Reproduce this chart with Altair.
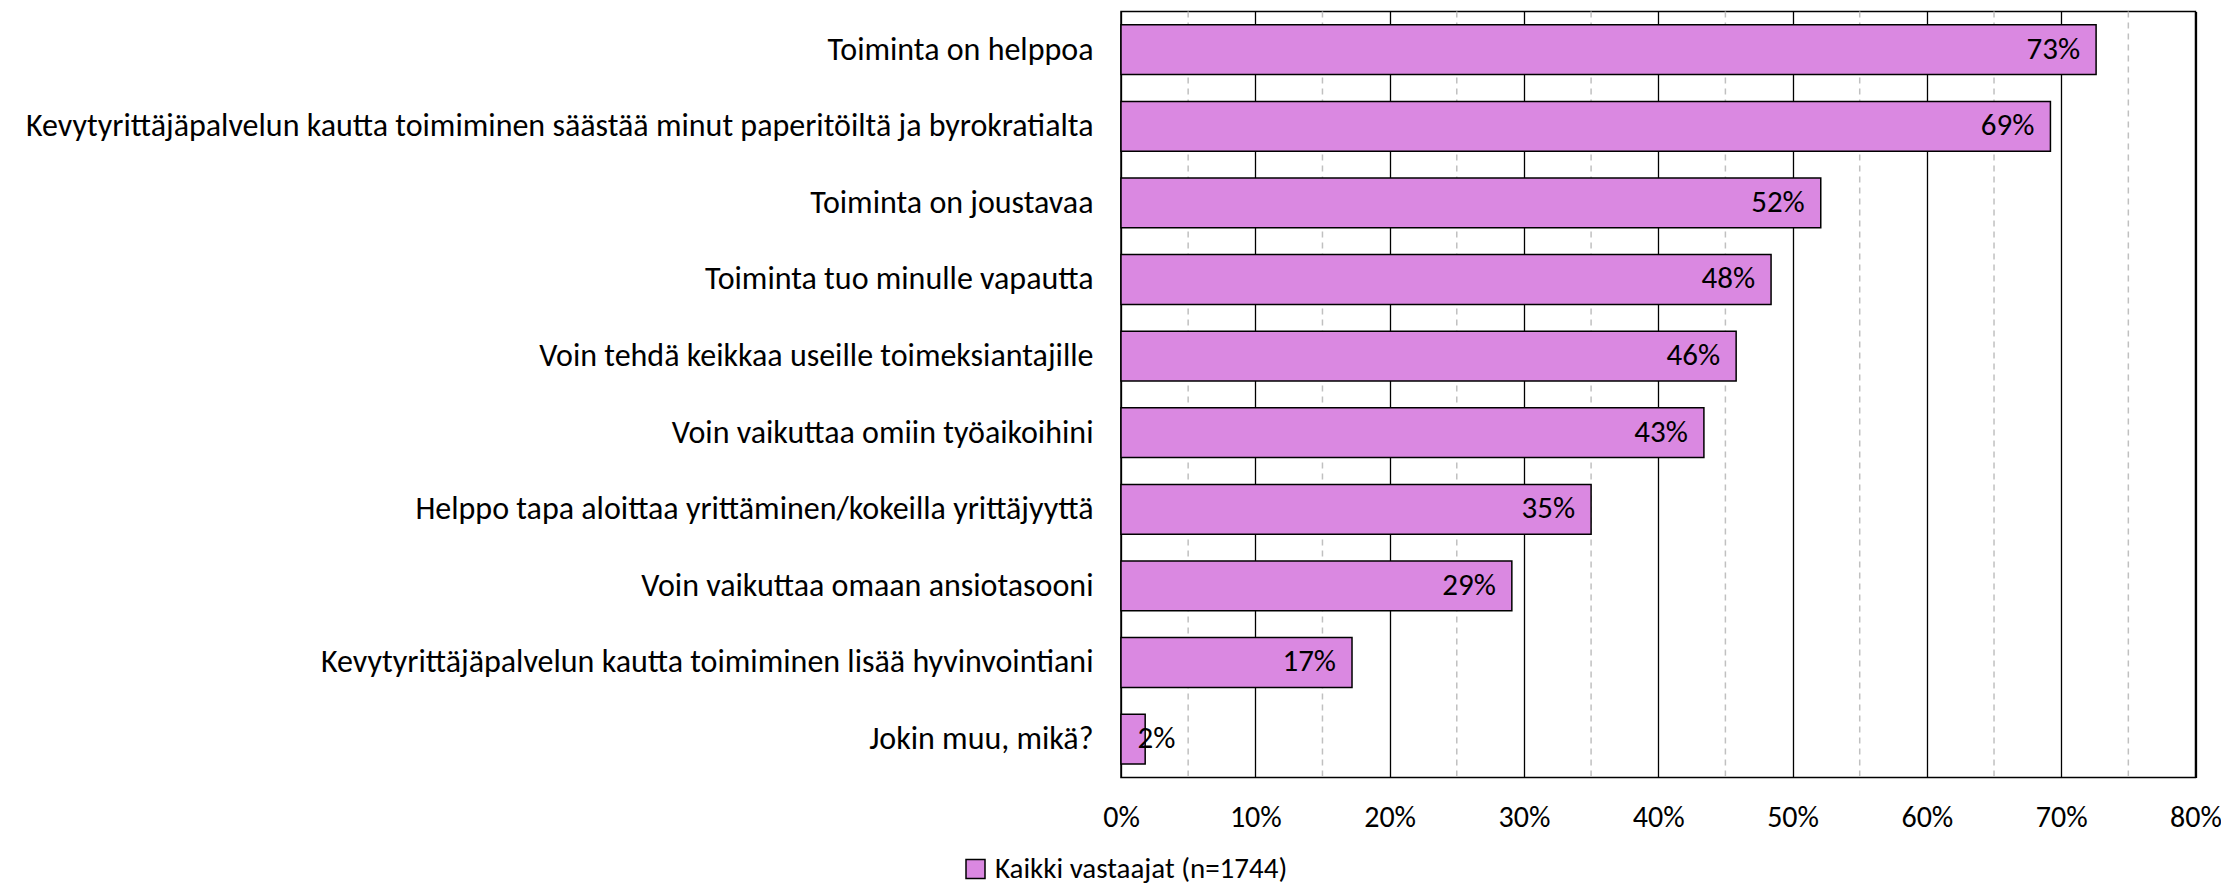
import altair as alt
import pandas as pd

categories = [
    "Toiminta on helppoa",
    "Kevytyrittäjäpalvelun kautta toimiminen säästää minut paperitöiltä ja byrokratialta",
    "Toiminta on joustavaa",
    "Toiminta tuo minulle vapautta",
    "Voin tehdä keikkaa useille toimeksiantajille",
    "Voin vaikuttaa omiin työaikoihini",
    "Helppo tapa aloittaa yrittäminen/kokeilla yrittäjyyttä",
    "Voin vaikuttaa omaan ansiotasooni",
    "Kevytyrittäjäpalvelun kautta toimiminen lisää hyvinvointiani",
    "Jokin muu, mikä?",
]
values = [72.6, 69.2, 52.1, 48.4, 45.8, 43.4, 35.0, 29.1, 17.2, 1.8]
labels = ["73%", "69%", "52%", "48%", "46%", "43%", "35%", "29%", "17%", "2%"]
series_name = "Kaikki vastaajat (n=1744)"
major_ticks = [0, 10, 20, 30, 40, 50, 60, 70, 80]
minor_ticks = [5, 15, 25, 35, 45, 55, 65, 75]

df = pd.DataFrame({"cat": categories, "value": values, "label": labels, "series": series_name})
minor_df = pd.DataFrame({"x": minor_ticks})

FONT = "Carlito, Lato, sans-serif"
FS = 31
x_scale = alt.Scale(domain=[0, 80], nice=False, zero=True)
y_scale = alt.Scale(paddingInner=0.35, paddingOuter=0.175)

x_axis = alt.Axis(
    title=None,
    values=major_ticks,
    labelExpr="datum.value + '%'",
    grid=True,
    gridColor="black",
    gridWidth=1.3,
    gridOpacity=1,
    ticks=False,
    domain=False,
    labelFont=FONT,
    labelFontSize=30,
    labelColor="black",
    labelPadding=25,
    labelFlush=False,
)

minor = alt.Chart(minor_df).mark_rule(
    color="#C0C0C0", strokeDash=[6, 5], strokeWidth=1.5
).encode(x=alt.X("x:Q", scale=x_scale, axis=x_axis))

bars = alt.Chart(df).mark_bar(stroke="black", strokeWidth=1.5).encode(
    x=alt.X("value:Q", scale=x_scale, axis=x_axis),
    y=alt.Y(
        "cat:N",
        sort=categories,
        scale=y_scale,
        axis=alt.Axis(
            title=None,
            ticks=False,
            domain=False,
            grid=False,
            labelFont=FONT,
            labelFontSize=32,
            labelColor="black",
            labelPadding=28,
            labelLimit=0,
        ),
    ),
    color=alt.Color(
        "series:N",
        scale=alt.Scale(range=["#DA88E1"]),
        legend=alt.Legend(
            title=None,
            orient="none",
            legendX=-160,
            legendY=843,
            padding=0,
            symbolType="square",
            symbolSize=361,
            symbolStrokeColor="black",
            symbolStrokeWidth=1.5,
            labelFont=FONT,
            labelFontSize=29,
            labelColor="black",
            labelOffset=5,
            labelLimit=0,
        ),
    ),
)

text_big = alt.Chart(df).transform_filter("datum.value >= 5").mark_text(
    align="right", baseline="middle", dx=-16, font=FONT, fontSize=FS, color="black"
).encode(
    x=alt.X("value:Q", scale=x_scale),
    y=alt.Y("cat:N", sort=categories, scale=y_scale),
    text="label:N",
)

text_small = alt.Chart(df).transform_filter("datum.value < 5").mark_text(
    align="left", baseline="middle", dx=16.5, font=FONT, fontSize=FS, color="black"
).encode(
    x=alt.value(0),
    y=alt.Y("cat:N", sort=categories, scale=y_scale),
    text="label:N",
)

chart = alt.layer(minor, bars, text_big, text_small).properties(
    width=1074.5,
    height=766,
    autosize=alt.AutoSizeParams(type="none"),
    padding={"left": 1113, "top": 3.4, "right": 25, "bottom": 110},
).configure_view(stroke="black", strokeWidth=1.5)

chart.save("out.html", embed_options={"renderer": "svg", "actions": False})
